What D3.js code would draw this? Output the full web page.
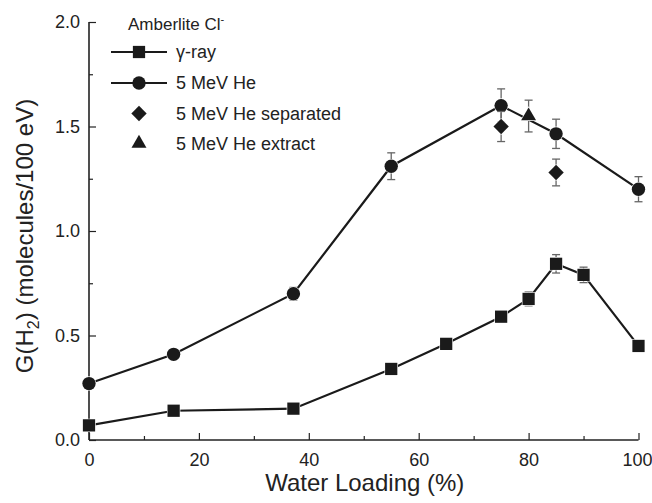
<!DOCTYPE html>
<html>
<head>
<meta charset="utf-8">
<script src="https://cdn.jsdelivr.net/npm/d3@7"></script>
<style>
  html, body { margin: 0; padding: 0; background: #fff; }
  svg { display: block; font-family: "Liberation Sans", Arial, Helvetica, sans-serif; }
</style>
</head>
<body>
<svg id="chart" width="652" height="503"></svg>
<script>
// H2 yields on Amberlite Cl- resin versus water loading
const gammaX   = [0, 15.4, 37.2, 55, 65, 75, 80, 85, 90, 100];
const gammaY   = [0.07, 0.14, 0.15, 0.34, 0.46, 0.59, 0.675, 0.843, 0.79, 0.45];
const gammaErr = [0.01, 0.02, 0.01, 0.01, 0.01, 0.02, 0.033, 0.044, 0.037, 0.01];

const heX   = [0, 15.4, 37.2, 55, 75, 85, 100];
const heY   = [0.27, 0.41, 0.70, 1.31, 1.60, 1.465, 1.20];
const heErr = [0.012, 0.015, 0.03, 0.064, 0.08, 0.07, 0.06];

const sepX   = [75, 85];
const sepY   = [1.50, 1.28];
const sepErr = [0.072, 0.064];

const extX   = [80];
const extY   = [1.55];
const extErr = [0.076];

const xTicks = [0, 20, 40, 60, 80, 100];
const yTicks = [0.0, 0.5, 1.0, 1.5, 2.0];

const legendTitle = "Amberlite Cl";
const legendLabels = ["\u03b3-ray", "5 MeV He", "5 MeV He separated", "5 MeV He extract"];

const svg = d3.select("#chart");

const x = d3.scaleLinear().domain([0, 100]).range([89, 638.5]);
const y = d3.scaleLinear().domain([0, 2]).range([440, 22]);

// axes (ticks pointing inward, minor ticks shorter)
const xAxis = d3.axisBottom(x).tickValues(d3.range(0, 101, 10))
  .tickSize(-7).tickPadding(13)
  .tickFormat(d => xTicks.includes(d) ? d : "");
const gx = svg.append("g").attr("transform", `translate(0,${y(0)})`).call(xAxis);
gx.selectAll(".tick line").attr("y2", d => xTicks.includes(d) ? -7 : -4);
// keep the last label inside the page edge
gx.selectAll(".tick text").filter(d => d === 100).attr("dx", -1.5);

const yAxis = d3.axisLeft(y).tickValues(d3.range(0, 2.01, 0.25))
  .tickSize(-7).tickPadding(9)
  .tickFormat(d => yTicks.some(t => Math.abs(t - d) < 1e-9) ? d3.format(".1f")(d) : "");
const gy = svg.append("g").attr("transform", `translate(${x(0)},0)`).call(yAxis);
gy.selectAll(".tick line").attr("x2", d => yTicks.some(t => Math.abs(t - d) < 1e-9) ? 7 : 4);

[gx, gy].forEach(g => {
  g.select(".domain").attr("stroke", "#222").attr("stroke-width", 1.6);
  g.selectAll(".tick line").attr("stroke", "#222").attr("stroke-width", 1.2);
  g.selectAll(".tick text").attr("fill", "#222").style("font-size", "18px")
    .style("font-family", "'Liberation Sans', Arial, sans-serif");
});
gy.select(".domain").attr("d", `M0,${y(2)}V${y(0)}`);
gx.select(".domain").attr("d", `M${x(0)},0H${x(100)}`);

// axis titles
svg.append("text")
  .attr("x", (x(0) + x(100)) / 2 + 1).attr("y", 491)
  .attr("text-anchor", "middle").attr("fill", "#222")
  .style("font-size", "24px").text("Water Loading (%)");

const yt = svg.append("text")
  .attr("transform", `translate(33,236) rotate(-90)`)
  .attr("text-anchor", "middle").attr("fill", "#222")
  .style("font-size", "24px");
yt.append("tspan").text("G(H");
yt.append("tspan").attr("dy", 6).style("font-size", "16px").text("2");
yt.append("tspan").attr("dy", -6).text(") (molecules/100 eV)");

// marker shapes
const sym = {
  square:   d3.symbol().type(d3.symbolSquare).size(150),
  circle:   d3.symbol().type(d3.symbolCircle).size(140),
  diamond:  d3.symbol().type(d3.symbolDiamond2).size(150),
  triangle: d3.symbol().type(d3.symbolTriangle2).size(160)
};

function drawSeries(xs, ys, errs, shape, connect) {
  const pts = xs.map((v, i) => ({ x: v, y: ys[i], e: errs[i] }));
  const g = svg.append("g");
  // error bars with caps
  const eb = g.append("g").attr("stroke", "#666").attr("stroke-width", 1.3).attr("fill", "none");
  pts.forEach(p => {
    const y1 = y(p.y + p.e), y2 = y(p.y - p.e), cx = x(p.x);
    eb.append("line").attr("x1", cx).attr("x2", cx).attr("y1", y1).attr("y2", y2);
    eb.append("line").attr("x1", cx - 4).attr("x2", cx + 4).attr("y1", y1).attr("y2", y1);
    eb.append("line").attr("x1", cx - 4).attr("x2", cx + 4).attr("y1", y2).attr("y2", y2);
  });
  if (connect) {
    g.append("path").datum(pts)
      .attr("d", d3.line().x(d => x(d.x)).y(d => y(d.y)))
      .attr("fill", "none").attr("stroke", "#1a1a1a").attr("stroke-width", 2.2);
  }
  g.selectAll(".m").data(pts).join("path")
    .attr("transform", d => `translate(${x(d.x)},${y(d.y)})`)
    .attr("d", sym[shape]())
    .attr("fill", "#1a1a1a").attr("stroke", "#fff").attr("stroke-width", 1.2)
    .attr("paint-order", "stroke");
}

drawSeries(gammaX, gammaY, gammaErr, "square", true);
drawSeries(heX, heY, heErr, "circle", true);
drawSeries(sepX, sepY, sepErr, "diamond", false);
drawSeries(extX, extY, extErr, "triangle", false);

// legend
const lg = svg.append("g");
const lt = lg.append("text").attr("x", 128).attr("y", 30).attr("fill", "#222")
  .style("font-size", "17px");
lt.append("tspan").text(legendTitle);
lt.append("tspan").attr("dy", -7).style("font-size", "11px").text("-");

const shapes = ["square", "circle", "diamond", "triangle"];
const rowY = [52, 83, 113.5, 143.5];
legendLabels.forEach((lab, i) => {
  if (i < 2) {
    lg.append("line").attr("x1", 111).attr("x2", 167).attr("y1", rowY[i]).attr("y2", rowY[i])
      .attr("stroke", "#1a1a1a").attr("stroke-width", 2.2);
  }
  lg.append("path").attr("transform", `translate(139,${rowY[i]})`)
    .attr("d", sym[shapes[i]]()).attr("fill", "#1a1a1a");
  lg.append("text").attr("x", 176).attr("y", rowY[i] + 6).attr("fill", "#222")
    .style("font-size", "18px").text(lab);
});
</script>
</body>
</html>
